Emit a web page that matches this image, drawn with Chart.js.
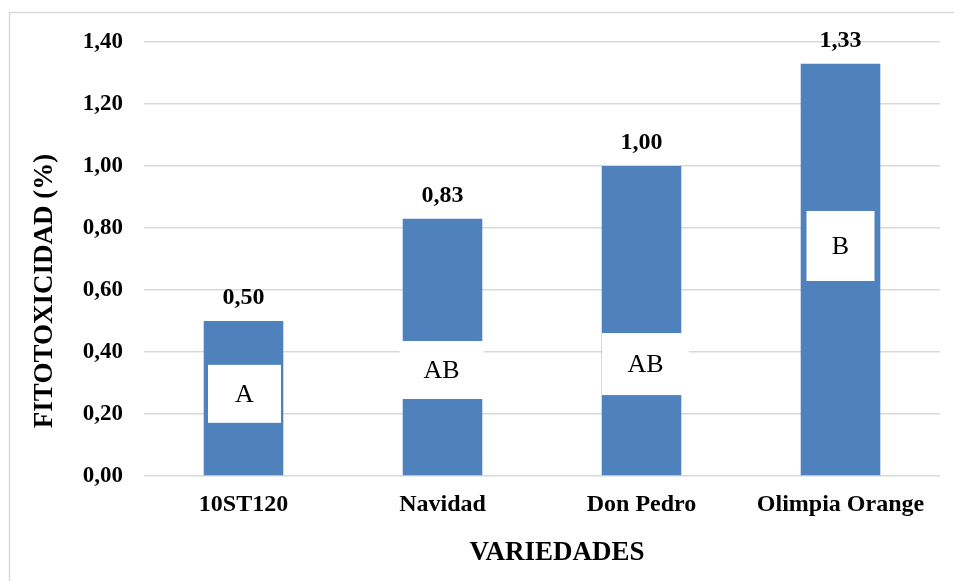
<!DOCTYPE html>
<html>
<head>
<meta charset="utf-8">
<script src="https://cdn.jsdelivr.net/npm/chart.js@4/dist/chart.umd.min.js"></script>
<style>
  html, body { margin: 0; padding: 0; background: #ffffff; overflow: hidden; }
  canvas { display: block; }
</style>
</head>
<body>
<canvas id="chart" width="954" height="581"></canvas>
<script>
// Varieties and their phytotoxicity (%)
const categories = ['10ST120', 'Navidad', 'Don Pedro', 'Olimpia Orange'];
const values = [0.50, 0.83, 1.00, 1.33];
// Statistical grouping letters and the value level where each letter sits
const groups = ['A', 'AB', 'AB', 'B'];
const groupLevels = [0.265, 0.342, 0.361, 0.742];
// Value axis
const yMin = 0;
const yMax = 1.4;
const yStep = 0.2;

const SERIF = '"Liberation Serif", "Times New Roman", Times, serif';
const BAR_BLUE = '#4f81bd';
const GRID = '#d9d9d9';

const fmt = v => v.toFixed(2).replace('.', ',');

// Light frame around the chart
const framePlugin = {
  id: 'frame',
  beforeDraw(chart) {
    const ctx = chart.ctx;
    ctx.save();
    ctx.strokeStyle = GRID;
    ctx.lineWidth = 1.5;
    ctx.strokeRect(9.5, 12.5, 2000, 2000);
    ctx.restore();
  }
};

// Value labels above bars and grouping letters in white boxes
const labelPlugin = {
  id: 'barLabels',
  afterDatasetsDraw(chart, args, opts) {
    const ctx = chart.ctx;
    const meta = chart.getDatasetMeta(0);
    const yScale = chart.scales.y;
    ctx.save();
    meta.data.forEach((bar, i) => {
      // value label
      ctx.font = 'bold 24px ' + SERIF;
      ctx.fillStyle = '#000000';
      ctx.textAlign = 'center';
      ctx.textBaseline = 'middle';
      ctx.fillText(fmt(values[i]), bar.x, bar.y - 23);

      // grouping letter
      const cy = yScale.getPixelForValue(groupLevels[i]);
      const w = opts.boxWidths[i];
      const h = opts.boxHeights[i];
      const cx = bar.x + opts.boxShift[i];
      ctx.fillStyle = '#ffffff';
      ctx.fillRect(cx - w / 2, cy - h / 2, w, h);
      ctx.font = '26px ' + SERIF;
      ctx.fillStyle = '#000000';
      ctx.fillText(groups[i], cx, cy + 1);
    });
    ctx.restore();
  }
};

// Axis titles
const titlePlugin = {
  id: 'axisTitles',
  afterDraw(chart) {
    const ctx = chart.ctx;
    ctx.save();
    ctx.font = 'bold 27px ' + SERIF;
    ctx.fillStyle = '#000000';
    ctx.textAlign = 'center';
    ctx.textBaseline = 'middle';
    ctx.fillText('VARIEDADES', 557, 553);
    ctx.translate(45, 291);
    ctx.rotate(-Math.PI / 2);
    ctx.fillText('FITOTOXICIDAD (%)', 0, 0);
    ctx.restore();
  }
};

new Chart(document.getElementById('chart'), {
  type: 'bar',
  data: {
    labels: categories,
    datasets: [{
      data: values,
      backgroundColor: BAR_BLUE,
      borderWidth: 0,
      barPercentage: 0.4,
      categoryPercentage: 1.0
    }]
  },
  options: {
    responsive: false,
    animation: false,
    devicePixelRatio: 1,
    layout: { padding: { left: 0, right: 14, top: 42, bottom: 0 } },
    plugins: {
      legend: { display: false },
      tooltip: { enabled: false },
      barLabels: {
        boxWidths: [73, 84, 87, 68],
        boxHeights: [58, 58, 62, 70],
        boxShift: [1, -1, 4, 0]
      }
    },
    scales: {
      x: {
        grid: { display: false, drawTicks: false },
        border: { display: false },
        ticks: {
          color: '#000000',
          font: { family: SERIF, size: 24, weight: 'bold' },
          padding: 14,
          maxRotation: 0,
          autoSkip: false
        },
        afterFit(scale) { scale.height = 105; }
      },
      y: {
        min: yMin,
        max: yMax,
        grid: { color: GRID, lineWidth: 1.5, drawTicks: false },
        border: { display: false },
        ticks: {
          stepSize: yStep,
          color: '#000000',
          font: { family: SERIF, size: 23, weight: 'bold' },
          padding: 21,
          callback: v => fmt(v)
        },
        afterFit(scale) { scale.width = 144; }
      }
    }
  },
  plugins: [framePlugin, labelPlugin, titlePlugin]
});
</script>
</body>
</html>
